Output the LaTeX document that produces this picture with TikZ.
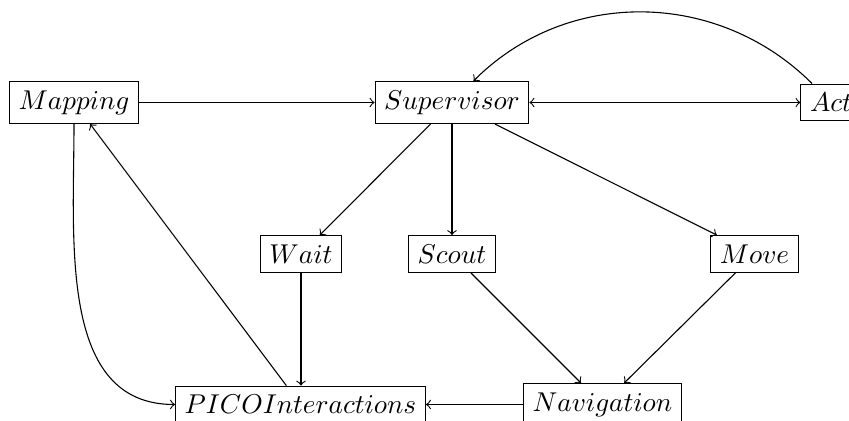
\documentclass[tikz,border=0pt]{standalone}
\usetikzlibrary{arrows}
\begin{document}
\begin{tikzpicture}[x=0.3676pt,y=-0.3676pt,
  box/.style={draw,rectangle,fill=white},
  conn/.style={->}]
\useasboundingbox (0,0) rectangle (849,421);
\clip (0,0) rectangle (849,421);
\node[box] (mapping) at (74,102.5) {$Mapping$};
\node[box] (sup) at (452,102.5) {$Supervisor$};
\node[box] (act) at (831,102.5) {$Act$};
\node[box] (wait) at (301,254) {$Wait$};
\node[box] (scout) at (452,254) {$Scout$};
\node[box] (move) at (754.5,254) {$Move$};
\node[box] (pico) at (300.5,404.5) {$PICOInteractions$};
\node[box] (nav) at (602.5,404.5) {$Navigation$};
\draw[conn] (mapping) -- (sup);
\draw[<->] (sup) -- (act);
\draw[conn] (act) to[out=135,in=45,looseness=1] (sup);
\draw[conn] (sup) -- (wait);
\draw[conn] (sup) -- (scout);
\draw[conn] (sup) -- (move);
\draw[conn] (wait.south) -- (wait.south |- pico.north);
\draw[conn] (pico) -- (mapping);
\draw[conn] (mapping) to[out=-90,in=180] (pico);
\draw[conn] (scout) -- (nav);
\draw[conn] (move) -- (nav);
\draw[conn] (nav) -- (pico);
\end{tikzpicture}
\end{document}
